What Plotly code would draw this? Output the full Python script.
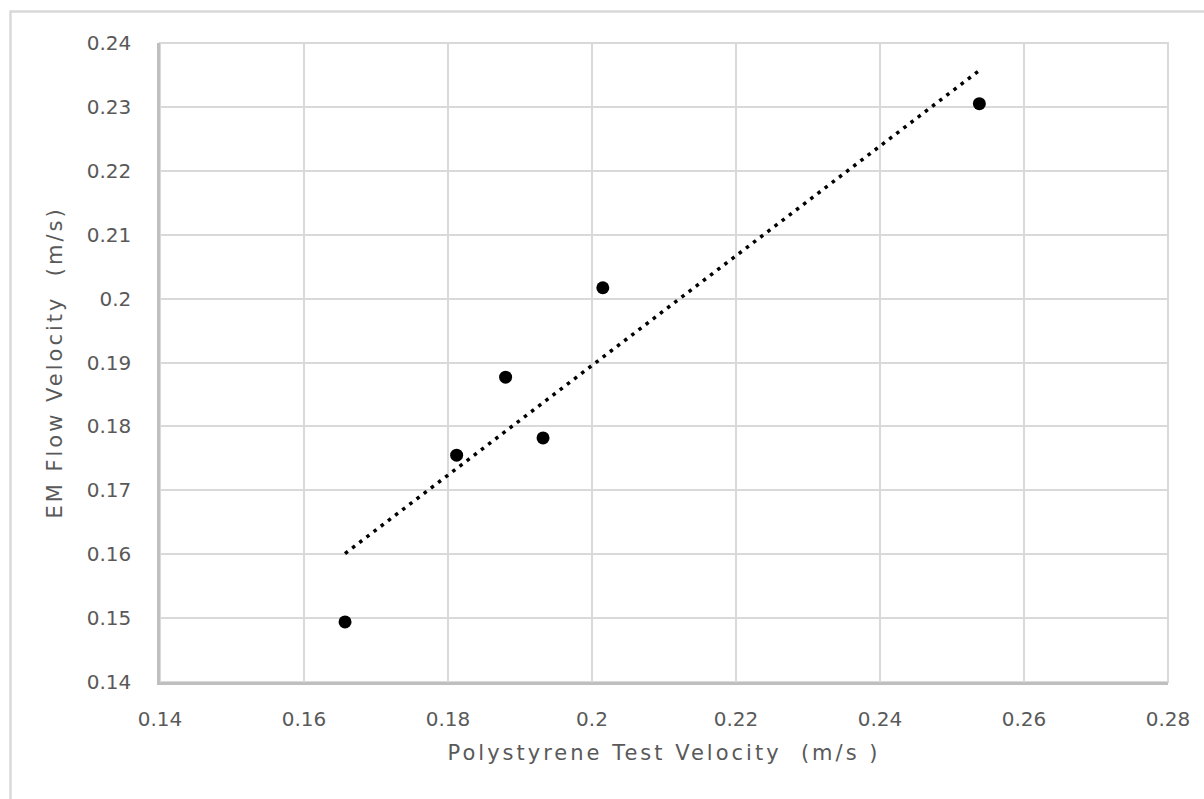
import numpy as np
import plotly.graph_objects as go

# Data
polystyrene_velocity = [0.1657, 0.1812, 0.1880, 0.1932, 0.2015, 0.2538]
em_flow_velocity = [0.1494, 0.1755, 0.1877, 0.1782, 0.2017, 0.2305]

x_ticks = [0.14, 0.16, 0.18, 0.20, 0.22, 0.24, 0.26, 0.28]
x_tick_labels = ["0.14", "0.16", "0.18", "0.2", "0.22", "0.24", "0.26", "0.28"]
y_ticks = [0.14, 0.15, 0.16, 0.17, 0.18, 0.19, 0.20, 0.21, 0.22, 0.23, 0.24]
y_tick_labels = ["0.14", "0.15", "0.16", "0.17", "0.18", "0.19", "0.2", "0.21", "0.22", "0.23", "0.24"]

x_title = "Polystyrene Test Velocity\u00a0 (m/s )"
y_title = "EM Flow Velocity\u00a0 (m/s)"

# Linear trendline (least squares), spanning the data's x range
slope, intercept = np.polyfit(polystyrene_velocity, em_flow_velocity, 1)
trend_x = [min(polystyrene_velocity), max(polystyrene_velocity)]
trend_y = [slope * v + intercept for v in trend_x]

FONT = "DejaVu Sans"
TXT = "#595959"
GRID = "#d9d9d9"
AXIS = "#bfbfbf"

fig = go.Figure()
fig.add_trace(go.Scatter(
    x=trend_x, y=trend_y, mode="lines",
    line=dict(color="black", width=3.5, dash="3.5px,5.5px"),
    hoverinfo="skip", showlegend=False,
))
fig.add_trace(go.Scatter(
    x=polystyrene_velocity, y=em_flow_velocity, mode="markers",
    marker=dict(color="black", size=13),
    showlegend=False,
))

W, H = 1204, 799
L, R, T, B = 160, 36, 43, 117
pw, ph = W - L - R, H - T - B

def px_x(p):
    return (p - L) / pw

def px_y(p):
    return (H - B - p) / ph

fig.update_layout(
    width=W, height=H,
    margin=dict(l=L, r=R, t=T, b=B, autoexpand=False),
    paper_bgcolor="white", plot_bgcolor="white",
    font=dict(family=FONT, color=TXT, size=18),
    shapes=[
        # outer chart border
        dict(type="rect", xref="paper", yref="paper",
             x0=px_x(10.5), x1=px_x(1215), y0=px_y(11.5), y1=px_y(815),
             line=dict(color=GRID, width=2.5), fillcolor="rgba(0,0,0,0)", layer="below"),
        # plot area border (top / right)
        dict(type="rect", xref="paper", yref="paper", x0=0, x1=1, y0=0, y1=1,
             line=dict(color=GRID, width=2), fillcolor="rgba(0,0,0,0)", layer="below"),
    ],
)
fig.update_xaxes(
    range=[0.14, 0.28], tickmode="array", tickvals=x_ticks, ticktext=x_tick_labels,
    showgrid=True, gridcolor=GRID, gridwidth=2, zeroline=False,
    showline=True, linecolor=AXIS, linewidth=2.5,
    ticks="", ticklabelstandoff=17,
    tickfont=dict(family=FONT, color=TXT, size=20),
    title=dict(text=x_title, font=dict(family=FONT, color=TXT, size=21), standoff=16),
    automargin=False,
)
fig.update_yaxes(
    range=[0.14, 0.24], tickmode="array", tickvals=y_ticks, ticktext=y_tick_labels,
    showgrid=True, gridcolor=GRID, gridwidth=2, zeroline=False,
    showline=True, linecolor=AXIS, linewidth=2.5,
    ticks="", ticklabelstandoff=22,
    tickfont=dict(family=FONT, color=TXT, size=20),
    title=dict(text=y_title, font=dict(family=FONT, color=TXT, size=21), standoff=19),
    automargin=False,
)

# widen the axis titles' letter spacing, as in the reference
post_js = """
var gd = document.getElementById('{plot_id}');
function spread() {
  gd.querySelectorAll('.g-xtitle text, .g-ytitle text').forEach(function (t) {
    t.style.letterSpacing = '3px';
  });
}
spread();
gd.on && gd.on('plotly_afterplot', spread);
"""

fig.write_html("out.html", post_script=post_js)
